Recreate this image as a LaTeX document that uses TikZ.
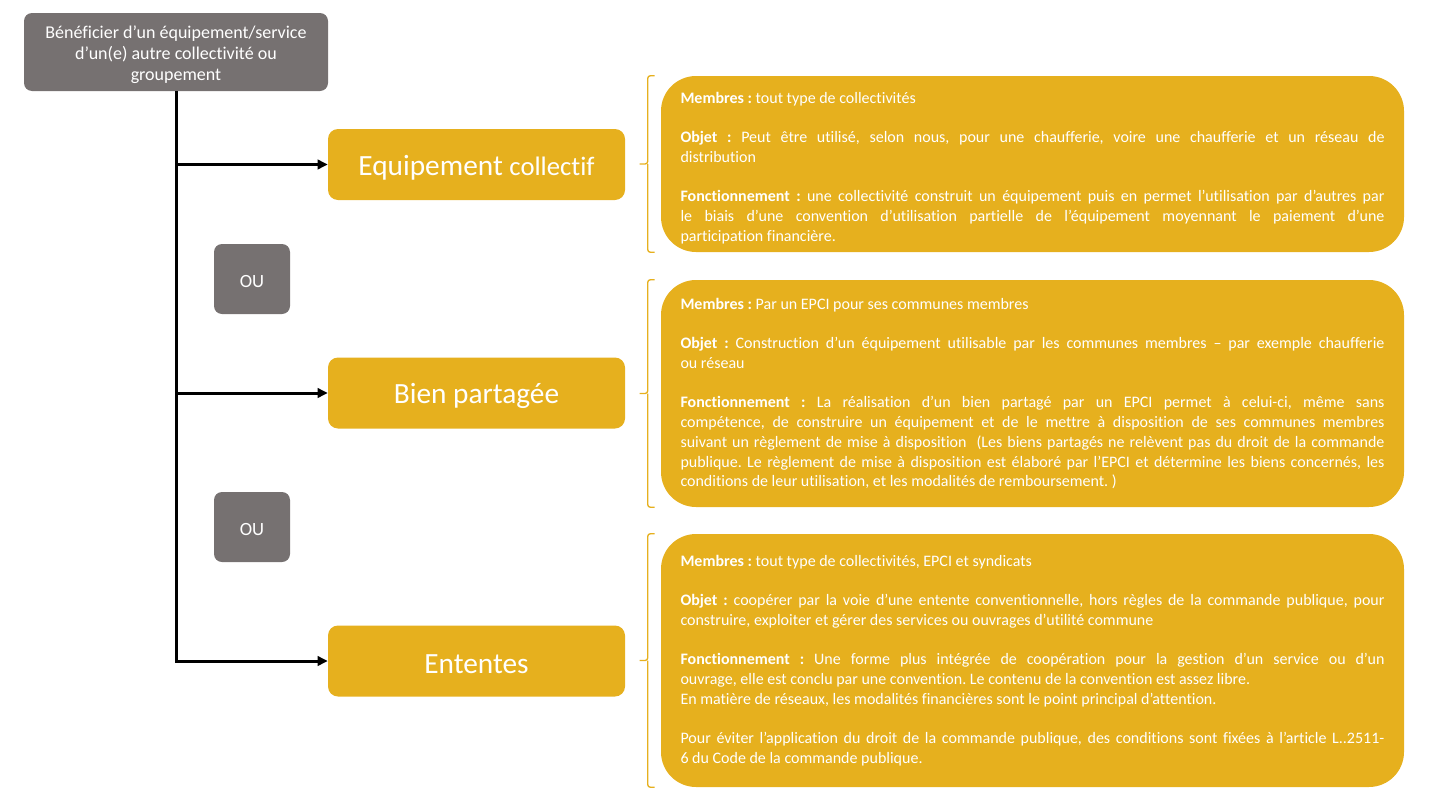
\documentclass[tikz,border=0pt]{standalone}
\usepackage{fontspec}
\setmainfont{Carlito}[Ligatures={TeX,NoCommon}]
\frenchspacing
\usetikzlibrary{arrows.meta}

\definecolor{gold}{RGB}{230,176,30}
\definecolor{taupe}{RGB}{118,113,113}

% lower a label a little without changing its box
\newcommand{\lowered}[1]{\raisebox{-2.25pt}[\height][\depth]{#1}}

\tikzset{
  greybox/.style={fill=taupe, text=white, rounded corners=6pt, align=center, inner sep=0pt},
  headbox/.style={fill=gold, text=white, rounded corners=7.5pt, minimum width=222.75pt,
    minimum height=53.25pt, inner sep=0pt, font=\fontsize{22}{26}\selectfont},
  infobox/.style={fill=gold, text=white, rounded corners=26.25pt, text width=528pt,
    inner xsep=14.625pt, inner ysep=0pt, align=justify, font=\fontsize{12}{14.8}\selectfont,
    execute at begin node={\setlength\parindent{0pt}\setlength\parskip{14.8pt}}},
  link/.style={line width=2.25pt, -{Triangle[length=7.5pt,width=7pt]}},
  bracket/.style={draw=gold, line width=1pt, rounded corners=2pt}
}

\begin{document}
\begin{tikzpicture}[x=0.75pt, y=-0.75pt]
  \useasboundingbox (0,0) rectangle (1429,789);

  % Starting box
  \node[greybox, minimum width=228pt, minimum height=58.5pt,
    font=\fontsize{13.5}{15.75}\selectfont] (start) at (176,52)
    {\lowered{\parbox{228pt}{\centering Bénéficier d’un équipement/service\\d’un(e) autre collectivité ou\\groupement}}};

  % The three options
  \node[headbox] (equip) at (476.5,164.5)
    {\lowered{Equipement {\fontsize{20}{24}\selectfont collectif}}};
  \node[headbox] (bien) at (476.5,393) {\lowered{Bien partagée}};
  \node[headbox] (ententes) at (476.5,661) {\lowered{Ententes}};

  % "or" tags between the options
  \node[greybox, minimum width=57pt, minimum height=52.5pt,
    font=\fontsize{14}{17}\selectfont] (ou1) at (252,279) {\lowered{OU}};
  \node[greybox, minimum width=57pt, minimum height=52.5pt,
    font=\fontsize{14}{17}\selectfont] (ou2) at (252,527) {\lowered{OU}};

  % Tree of arrows
  \draw[link] (start.south) |- (ententes.west);
  \draw[link] (start.south |- equip.west) -- (equip.west);
  \draw[link] (start.south |- bien.west) -- (bien.west);

  % Detail panels
  \node[infobox, minimum height=132pt] (p1) at (1032.5,164) {%
\textbf{Membres~:} tout type de collectivités

\textbf{Objet~:} Peut être utilisé, selon nous, pour une chaufferie, voire une chaufferie et un réseau de\linebreak distribution

\textbf{Fonctionnement~:} une collectivité construit un équipement puis en permet l’utilisation par d’autres par\linebreak le biais d’une convention d’utilisation partielle de l’équipement moyennant le paiement d’une\linebreak participation financière.\par\vspace*{-6pt}};

  \node[infobox, minimum height=170.25pt] (p2) at (1032.5,393.5) {%
\textbf{Membres~:} Par un EPCI pour ses communes membres

\textbf{Objet~:} Construction d’un équipement utilisable par les communes membres – par exemple chaufferie\linebreak ou réseau

\textbf{Fonctionnement~:} La réalisation d’un bien partagé par un EPCI permet à celui-ci, même sans\linebreak compétence, de construire un équipement et de le mettre à disposition de ses communes membres\linebreak suivant un règlement de mise à disposition~ (Les biens partagés ne relèvent pas du droit de la commande\linebreak publique. Le règlement de mise à disposition est élaboré par l’EPCI et détermine les biens concernés, les\linebreak conditions de leur utilisation, et les modalités de remboursement. )};

  \node[infobox, minimum height=189.75pt] (p3) at (1032.5,660.5) {%
\textbf{Membres~:} tout type de collectivités, EPCI et syndicats

\textbf{Objet~:} coopérer par la voie d'une entente conventionnelle, hors règles de la commande publique, pour\linebreak construire, exploiter et gérer des services ou ouvrages d’utilité commune

\textbf{Fonctionnement~:} Une forme plus intégrée de coopération pour la gestion d’un service ou d’un\linebreak ouvrage, elle est conclu par une convention. Le contenu de la convention est assez libre.\\
En matière de réseaux, les modalités financières sont le point principal d’attention.

Pour éviter l’application du droit de la commande publique, des conditions sont fixées à l’article L..2511-\linebreak 6 du Code de la commande publique.};

  % Brackets in front of the panels
  \def\bracket#1{
    \draw[bracket] ([xshift=-4.5pt]#1.north west) -| ([xshift=-9.75pt]#1.west)
      -- ([xshift=-15.75pt]#1.west);
    \draw[bracket] ([xshift=-9.75pt]#1.west) |- ([xshift=-4.5pt]#1.south west);
  }
  \bracket{p1}
  \bracket{p2}
  \bracket{p3}
\end{tikzpicture}
\end{document}
